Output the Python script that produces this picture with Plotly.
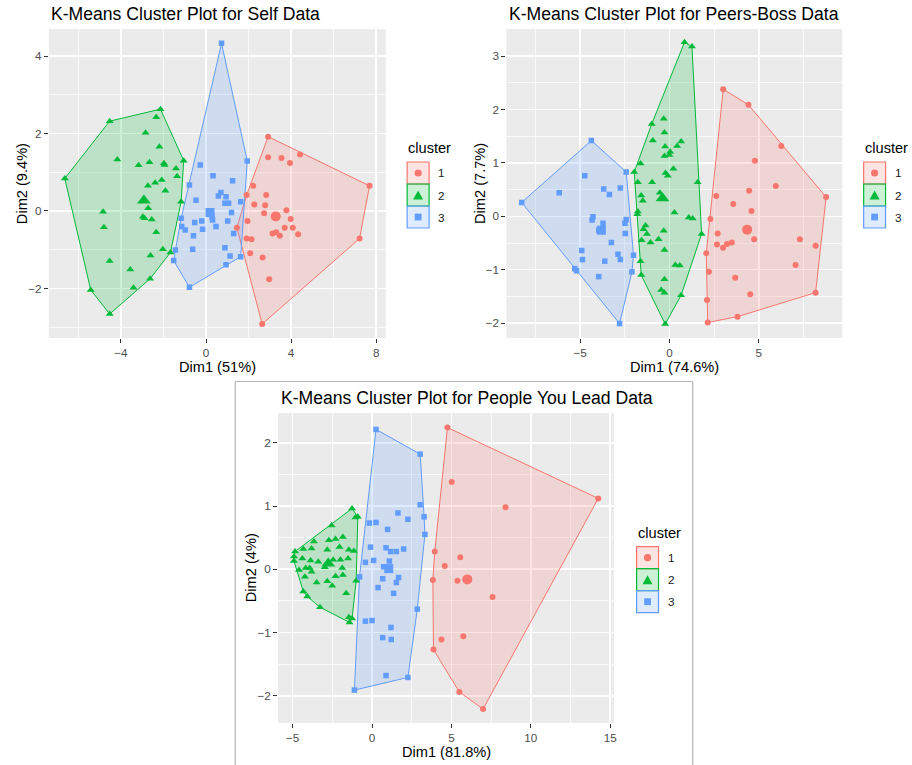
import plotly.graph_objects as go

# ---------------- DATA ----------------
clusters = ["1", "2", "3"]
colors = ["#F8766D", "#00BA38", "#619CFF"]
fills = ["rgba(248,118,109,0.2)", "rgba(0,186,56,0.2)", "rgba(97,156,255,0.2)"]
symbols = ["circle", "triangle-up", "square"]

titles = ["K-Means Cluster Plot for Self Data",
          "K-Means Cluster Plot for Peers-Boss Data",
          "K-Means Cluster Plot for People You Lead Data"]
x_titles = ["Dim1 (51%)", "Dim1 (74.6%)", "Dim1 (81.8%)"]
y_titles = ["Dim2 (9.4%)", "Dim2 (7.7%)", "Dim2 (4%)"]

# Self data
self_c1_x = [2.92, 2.92, 3.55, 3.95, 4.42, 7.69, 2.22, 2.83, 1.91, 2.27, 2.78, 3.78, 2.73, 1.95, 3.98,
             3.70, 4.08, 3.13, 3.30, 3.47, 4.33, 1.45, 1.91, 2.14, 2.08, 2.66, 7.22, 2.97, 2.64]
self_c1_y = [1.92, 1.39, 1.37, 1.24, 1.46, 0.65, 0.65, 0.41, 0.41, 0.17, 0.15, 0.02, -0.06, -0.26, -0.21,
             -0.43, -0.43, -0.58, -0.55, -0.64, -0.60, -0.43, -0.71, -0.73, -1.09, -1.20, -0.71, -1.76, -2.92]
self_c2_x = [-6.64, -4.53, -2.14, -2.34, -2.84, -2.19, -4.17, -3.17, -2.66, -1.98, -1.95, -1.41, -1.05, -1.36,
             -2.73, -2.39, -2.08, -1.91, -1.17, -2.72, -2.97, -2.89, -2.55, -4.84, -4.80, -2.34, -2.03, -1.67,
             -2.61, -4.53, -3.56, -2.63, -3.41, -5.42, -4.53]
self_c2_y = [0.84, 2.32, 2.63, 2.42, 2.02, 1.66, 1.33, 1.18, 1.26, 1.23, 1.19, 1.10, 1.30, 0.90,
             0.65, 0.73, 0.80, 0.52, 0.24, 0.07, -0.15, -0.19, -0.22, -0.02, -0.42, -0.55, -0.99, -1.07,
             -1.15, -1.29, -1.51, -1.75, -1.98, -2.04, -2.66]
self_c3_x = [0.73, 1.94, -0.27, 0.33, 1.25, -0.78, 0.70, 0.58, 0.94, 0.89, 1.06, -0.47, 1.63, 0.28, 0.31,
             1.20, -1.17, -0.20, -0.53, 1.02, 0.47, -1.14, -0.98, -0.16, -0.59, 1.30, -0.63, 0.89, -1.44,
             -1.52, 1.13, 1.63, 0.94, -0.78]
self_c3_y = [4.33, 1.29, 1.19, 0.91, 0.78, 0.67, 0.48, 0.39, 0.37, 0.20, 0.20, 0.28, 0.24, -0.15, -0.23,
             -0.04, -0.19, -0.26, -0.30, -0.26, -0.40, -0.40, -0.49, -0.47, -0.64, -0.58, -0.99, -0.95, -1.01,
             -1.28, -1.16, -1.18, -1.39, -1.97]
self_center_x = [3.28, -2.92, 0.19]
self_center_y = [-0.14, 0.27, -0.04]

# Peers-Boss data
peers_c1_x = [3.01, 4.42, 6.26, 4.78, 8.77, 5.95, 4.46, 2.62, 3.57, 4.59, 2.29, 2.70, 4.74, 2.66, 3.00,
              3.22, 3.49, 7.30, 8.18, 2.06, 7.06, 2.21, 3.68, 4.52, 8.18, 2.10, 3.81, 2.14]
peers_c1_y = [2.38, 2.09, 1.32, 1.04, 0.36, 0.57, 0.48, 0.38, 0.23, 0.10, -0.05, -0.32, -0.43, -0.53, -0.59,
              -0.52, -0.49, -0.43, -0.55, -0.69, -0.91, -1.04, -1.15, -1.46, -1.43, -1.57, -1.88, -1.99]
peers_c2_x = [0.84, 1.26, -0.32, -0.99, -0.28, -0.93, -0.24, 0.65, 0.43, 0.04, 0.00, -0.28, -1.62, -1.97,
              0.22, -0.22, -0.09, -1.77, -0.97, 1.58, -0.54, -1.58, -1.49, -1.77, -1.80, 0.28, 1.08, 1.30,
              1.80, -1.34, -1.45, -1.26, -0.32, -1.56, -1.06, -0.61, -0.28, -1.62, -1.58, 0.33, 0.58, -0.28,
              -0.46, -0.28, 0.65, -0.24]
peers_c2_y = [3.26, 3.18, 1.83, 1.73, 1.57, 1.42, 1.31, 1.40, 1.32, 1.21, 1.15, 1.13, 0.99, 0.83,
              0.89, 0.81, 0.76, 0.64, 0.64, 0.64, 0.44, 0.39, 0.29, 0.09, 0.04, 0.07, -0.02, -0.04,
              -0.33, -0.17, -0.24, -0.33, -0.27, -0.45, -0.49, -0.43, -0.63, -0.84, -1.10, -0.91, -0.92, -1.18,
              -1.38, -1.43, -1.48, -2.02]
peers_c3_x = [-8.27, -4.37, -2.42, -4.74, -6.17, -3.68, -3.36, -2.75, -4.28, -4.33, -3.72, -3.96, -2.42,
              -2.49, -2.47, -3.25, -4.91, -4.87, -3.62, -2.88, -2.75, -2.01, -5.30, -5.20, -3.96, -2.10, -2.79]
peers_c3_y = [0.26, 1.42, 0.83, 0.76, 0.44, 0.51, 0.41, 0.53, -0.01, -0.07, -0.13, -0.26, -0.06,
              -0.13, -0.32, -0.49, -0.64, -0.81, -0.84, -0.71, -0.81, -0.73, -0.98, -1.02, -1.13, -1.04, -2.01]
peers_center_x = [4.35, -0.39, -3.81]
peers_center_y = [-0.25, 0.34, -0.26]

# People You Lead data
lead_c1_x = [4.75, 5.02, 14.25, 8.41, 3.95, 5.56, 4.58, 3.83, 5.38, 7.59, 4.37, 5.75, 3.87, 5.50, 6.99]
lead_c1_y = [2.24, 1.38, 1.12, 0.98, 0.28, 0.19, 0.05, -0.17, -0.18, -0.44, -1.11, -1.06, -1.27, -1.94, -2.21]
lead_c2_x = [-1.26, -1.05, -0.90, -2.55, -1.84, -2.30, -2.72, -3.66, -3.81, -4.85, -4.33, -2.82, -2.05,
             -1.46, -1.15, -4.92, -4.92, -4.39, -3.87, -3.39, -2.45, -1.99, -1.51, -3.93, -2.97, -1.88,
             -4.60, -2.30, -1.84, -4.23, -1.00, -3.49, -2.82, -2.51, -1.63, -4.33, -4.08, -3.28, -1.46,
             -1.26, -1.42, -4.18, -3.81]
lead_c2_y = [0.96, 0.82, 0.83, 0.69, 0.51, 0.48, 0.46, 0.44, 0.33, 0.28, 0.32, 0.31, 0.35,
             0.31, 0.29, 0.20, 0.13, 0.17, 0.14, 0.12, 0.15, 0.15, 0.17, 0.02, 0.03, 0.02,
             -0.01, -0.11, -0.09, -0.12, -0.18, -0.21, -0.19, -0.26, -0.38, -0.35, -0.43, -0.60, -0.76,
             -0.78, -0.84, 0.02, -0.04]
lead_c3_x = [0.25, 3.03, 3.03, 3.28, 3.33, 1.63, 2.26, -0.17, 0.25, 0.98, -0.10, 0.88, 1.17, 1.53, 1.99,
             -0.42, 0.10, 1.09, 0.73, -0.79, 0.67, 1.67, 1.53, 0.38, 1.36, 2.85, -0.42, 0.00, 1.19, 0.67,
             1.21, 0.88, 2.26, -1.11]
lead_c3_y = [2.21, 1.82, 1.02, 0.83, 0.55, 0.89, 0.79, 0.73, 0.74, 0.63, 0.35, 0.34, 0.28, 0.28, 0.32,
             0.11, 0.14, 0.13, 0.04, -0.12, -0.15, -0.13, -0.21, -0.29, -0.38, -0.63, -0.82, -0.81, -0.92, -1.08,
             -1.11, -1.68, -1.71, -1.91]
lead_center_x = [6.00, -2.76, 1.05]
lead_center_y = [-0.16, 0.09, 0.01]

x_ranges = [[-7.39, 8.45], [-9.13, 9.67], [-5.92, 15.24]]
y_ranges = [[-3.28, 4.70], [-2.28, 3.51], [-2.43, 2.47]]
x_dticks = [4, 5, 5]
y_dticks = [2, 1, 1]

panels = [
    ([(self_c1_x, self_c1_y), (self_c2_x, self_c2_y), (self_c3_x, self_c3_y)], (self_center_x, self_center_y)),
    ([(peers_c1_x, peers_c1_y), (peers_c2_x, peers_c2_y), (peers_c3_x, peers_c3_y)], (peers_center_x, peers_center_y)),
    ([(lead_c1_x, lead_c1_y), (lead_c2_x, lead_c2_y), (lead_c3_x, lead_c3_y)], (lead_center_x, lead_center_y)),
]

# ---------------- LAYOUT (page pixel boxes) ----------------
W, H = 912, 765
FONT = "Liberation Sans, Arial, sans-serif"
plot_boxes = [(49, 387, 29, 338), (508, 845, 29, 338), (279, 616, 413, 723)]
title_pos = [(49, 14), (509, 14), (280, 398)]
legend_pos = [(408.5, 148), (866.5, 148), (638.7, 532.7)]
xtitle_y = [367, 367, 751.5]
ytitle_x = [21.7, 481, 252]


def PX(x):
    return x / W


def PY(y):
    return 1 - y / H


def convex_hull(xs, ys):
    pts = sorted(set(zip(xs, ys)))

    def cross(o, a, b):
        return (a[0] - o[0]) * (b[1] - o[1]) - (a[1] - o[1]) * (b[0] - o[0])

    lower, upper = [], []
    for p in pts:
        while len(lower) >= 2 and cross(lower[-2], lower[-1], p) <= 0:
            lower.pop()
        lower.append(p)
    for p in reversed(pts):
        while len(upper) >= 2 and cross(upper[-2], upper[-1], p) <= 0:
            upper.pop()
        upper.append(p)
    h = lower[:-1] + upper[:-1]
    h.append(h[0])
    return [p[0] for p in h], [p[1] for p in h]


fig = go.Figure()

for pi, (cl, centers) in enumerate(panels):
    sfx = "" if pi == 0 else str(pi + 1)
    xa, ya = "x" + sfx, "y" + sfx
    for ci, (xs, ys) in enumerate(cl):
        hx, hy = convex_hull(xs, ys)
        fig.add_trace(go.Scatter(x=hx, y=hy, mode="lines", fill="toself", fillcolor=fills[ci],
                                 line=dict(color=colors[ci], width=1), hoverinfo="skip",
                                 showlegend=False, xaxis=xa, yaxis=ya))
    for ci, (xs, ys) in enumerate(cl):
        sz = 6 if symbols[ci] == "circle" else (7 if symbols[ci] == "triangle-up" else 5.5)
        fig.add_trace(go.Scatter(x=xs, y=ys, mode="markers",
                                 marker=dict(color=colors[ci], symbol=symbols[ci], size=sz, line=dict(width=0)),
                                 name=clusters[ci], showlegend=False, xaxis=xa, yaxis=ya))
    cx, cy = centers
    for ci in range(3):
        sz = 10 if symbols[ci] == "circle" else (12 if symbols[ci] == "triangle-up" else 9)
        fig.add_trace(go.Scatter(x=[cx[ci]], y=[cy[ci]], mode="markers",
                                 marker=dict(color=colors[ci], symbol=symbols[ci], size=sz, line=dict(width=0)),
                                 showlegend=False, xaxis=xa, yaxis=ya))

axis_common = dict(showgrid=True, gridcolor="white", gridwidth=1.6, zeroline=False,
                   ticks="outside", ticklen=4, tickwidth=1, tickcolor="#333333",
                   tickfont=dict(family=FONT, size=11.7, color="#4D4D4D"),
                   showline=False, fixedrange=True)

layout_axes = {}
for pi in range(3):
    sfx = "" if pi == 0 else str(pi + 1)
    l, r, t, b = plot_boxes[pi]
    xd, yd = x_dticks[pi], y_dticks[pi]
    layout_axes["xaxis" + sfx] = dict(
        axis_common, domain=[PX(l), PX(r)], range=x_ranges[pi], dtick=xd, tick0=0,
        anchor="y" + sfx,
        minor=dict(dtick=xd / 2, tick0=0, showgrid=True, gridcolor="white", gridwidth=0.7, ticks=""))
    layout_axes["yaxis" + sfx] = dict(
        axis_common, domain=[PY(b), PY(t)], range=y_ranges[pi], dtick=yd, tick0=0,
        anchor="x" + sfx,
        minor=dict(dtick=yd / 2, tick0=0, showgrid=True, gridcolor="white", gridwidth=0.7, ticks=""))

annotations = []
shapes = []
for pi in range(3):
    l, r, t, b = plot_boxes[pi]
    tx, ty = title_pos[pi]
    annotations.append(dict(text=titles[pi], x=PX(tx), y=PY(ty), xref="paper", yref="paper",
                            xanchor="left", yanchor="middle", showarrow=False,
                            font=dict(family=FONT, size=17.6, color="black")))
    annotations.append(dict(text=x_titles[pi], x=PX((l + r) / 2), y=PY(xtitle_y[pi]), xref="paper", yref="paper",
                            xanchor="center", yanchor="middle", showarrow=False,
                            font=dict(family=FONT, size=14.6, color="black")))
    annotations.append(dict(text=y_titles[pi], x=PX(ytitle_x[pi]), y=PY((t + b) / 2), xref="paper", yref="paper",
                            xanchor="center", yanchor="middle", showarrow=False, textangle=-90,
                            font=dict(family=FONT, size=14.6, color="black")))
    lx, ly = legend_pos[pi]
    annotations.append(dict(text="cluster", x=PX(lx - 1), y=PY(ly), xref="paper", yref="paper",
                            xanchor="left", yanchor="middle", showarrow=False,
                            font=dict(family=FONT, size=14.6, color="black")))
    kw, kh = 22, 22
    top0 = ly + 14
    for ci in range(3):
        y0 = top0 + ci * kh
        y1 = y0 + kh
        shapes.append(dict(type="rect", xref="paper", yref="paper",
                           x0=PX(lx), x1=PX(lx + kw), y0=PY(y1), y1=PY(y0),
                           fillcolor=fills[ci], line=dict(color=colors[ci], width=1.2)))
        mx, my = lx + kw / 2, (y0 + y1) / 2
        if ci == 0:
            rr = 3.6
            shapes.append(dict(type="circle", xref="paper", yref="paper",
                               x0=PX(mx - rr), x1=PX(mx + rr), y0=PY(my + rr), y1=PY(my - rr),
                               fillcolor=colors[ci], line=dict(width=0)))
        elif ci == 1:
            hw, hh = 5, 4.5
            path = "M {} {} L {} {} L {} {} Z".format(PX(mx - hw), PY(my + hh), PX(mx + hw), PY(my + hh),
                                                      PX(mx), PY(my - hh))
            shapes.append(dict(type="path", xref="paper", yref="paper", path=path,
                               fillcolor=colors[ci], line=dict(width=0)))
        else:
            rr = 3.4
            shapes.append(dict(type="rect", xref="paper", yref="paper",
                               x0=PX(mx - rr), x1=PX(mx + rr), y0=PY(my + rr), y1=PY(my - rr),
                               fillcolor=colors[ci], line=dict(width=0)))
        annotations.append(dict(text=clusters[ci], x=PX(lx + kw + 7), y=PY(my), xref="paper", yref="paper",
                                xanchor="left", yanchor="middle", showarrow=False,
                                font=dict(family=FONT, size=11.7, color="#1A1A1A")))

# frame around the bottom panel
frame_col = "#B4B4B4"
shapes.append(dict(type="line", xref="paper", yref="paper", x0=PX(236), x1=PX(695), y0=PY(381.5), y1=PY(381.5),
                   line=dict(color=frame_col, width=1.2)))
shapes.append(dict(type="line", xref="paper", yref="paper", x0=PX(236), x1=PX(236), y0=PY(381.5), y1=0,
                   line=dict(color=frame_col, width=1.2)))
shapes.append(dict(type="line", xref="paper", yref="paper", x0=PX(695), x1=PX(695), y0=PY(381.5), y1=0,
                   line=dict(color=frame_col, width=1.2)))

fig.update_layout(
    width=W, height=H, autosize=False,
    margin=dict(l=0, r=0, t=0, b=0, pad=0),
    paper_bgcolor="white", plot_bgcolor="#EBEBEB",
    font=dict(family=FONT, color="black"),
    showlegend=False, hovermode=False,
    annotations=annotations, shapes=shapes,
    **layout_axes,
)

fig.write_html("out.html", config={"displayModeBar": False, "staticPlot": True},
               post_script="document.body.style.margin='0px';document.body.style.overflow='hidden';")
